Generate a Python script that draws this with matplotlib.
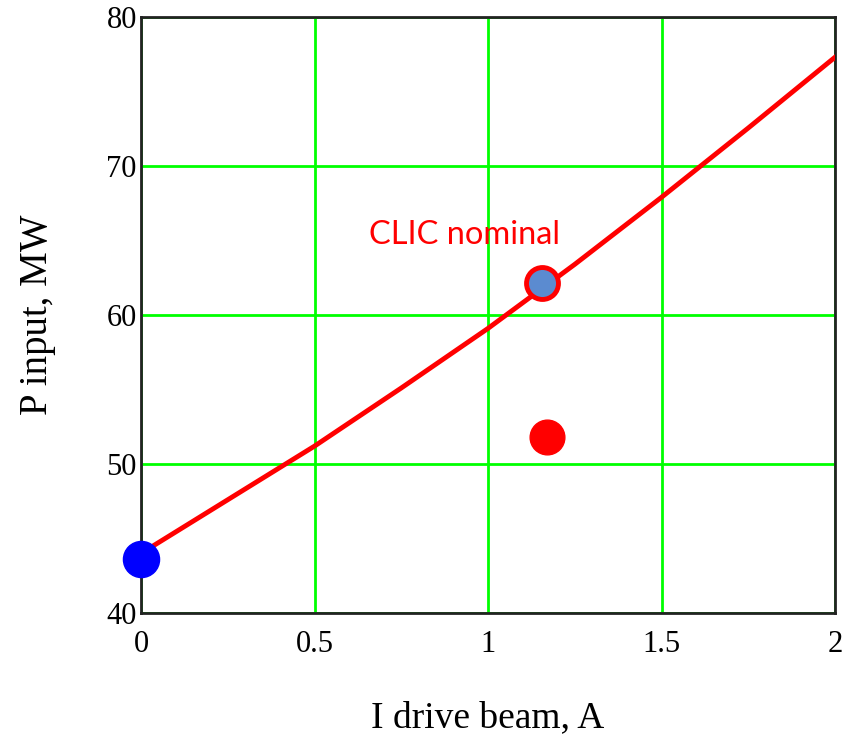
import numpy as np
from matplotlib import pyplot as plt

# curve
current = [0.0, 0.25, 0.5, 0.75, 1.0, 1.25, 1.5, 1.75, 2.0]
power = [44.0, 47.6, 51.2, 55.1, 59.1, 63.4, 67.9, 72.55, 77.3]

# marked points
startX, startY = 0.0, 43.6
nominalX, nominalY = 1.157, 62.15
redX, redY = 1.169, 51.8
nominalLabel = 'CLIC nominal'

xTicks = [0, 0.5, 1, 1.5, 2]
xTickLabels = ['0', '0.5', '1', '1.5', '2']
yTicks = [40, 50, 60, 70, 80]

fig = plt.figure(figsize=(8.52, 7.44), dpi=100)
ax = fig.add_axes([141/852, 1 - 613/744, (835 - 141)/852, (613 - 17)/744])

ax.plot(current, power, color='red', lw=3.5, zorder=3)
ax.plot(startX, startY, 'o', color='#0000ff', ms=26, clip_on=False, zorder=5)
ax.plot(nominalX, nominalY, 'o', mfc='#5b8bd0', mec='red', mew=3.5, ms=23, zorder=5)
ax.plot(redX, redY, 'o', color='red', ms=25, zorder=5)
ax.text(0.658, 65.4, nominalLabel, color='red', fontsize=23.5, family='Lato',
        va='center', ha='left')

ax.set_xlim(0, 2)
ax.set_ylim(40, 80)
ax.set_xticks(xTicks)
ax.set_xticklabels(xTickLabels)
ax.set_yticks(yTicks)
ax.grid(True, color='#00ff00', lw=2)
ax.set_axisbelow(True)
ax.tick_params(length=0, labelsize=22)
ax.tick_params(axis='x', pad=12)
ax.tick_params(axis='y', pad=3)
for lab in ax.get_xticklabels() + ax.get_yticklabels():
    lab.set_family('Liberation Serif')
for sp in ax.spines.values():
    sp.set_linewidth(2)
    sp.set_color('#222222')

ax.set_xlabel('I drive beam, A', family='Liberation Serif', fontsize=27, labelpad=30)
ax.set_ylabel('P input, MW', family='Liberation Serif', fontsize=28, labelpad=36)

fig.savefig('out.png', dpi=100)
